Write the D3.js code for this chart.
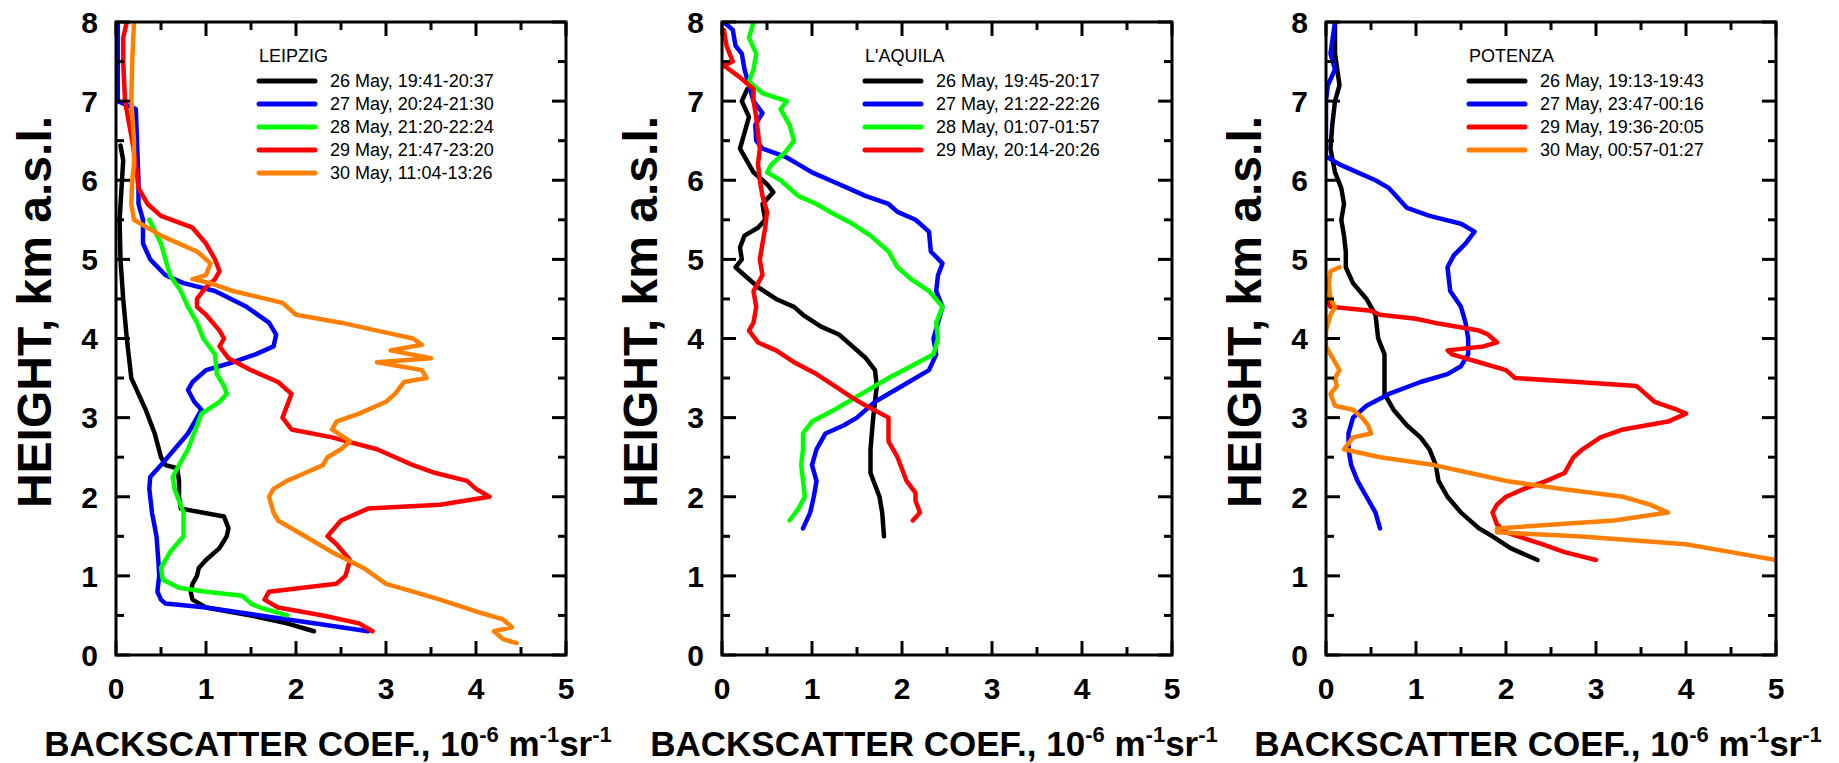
<!DOCTYPE html>
<html>
<head>
<meta charset="utf-8">
<script src="https://cdn.jsdelivr.net/npm/d3@7"></script>
<style>
  html, body { margin: 0; padding: 0; background: #fff; }
  svg { display: block; }
  text { font-family: "Liberation Sans", Arial, sans-serif; }
</style>
</head>
<body>
<svg id="chart" width="1839" height="763"></svg>
<script>
// ---------------- DATA ----------------
const xTicks = [0, 1, 2, 3, 4, 5];
const yTicks = [0, 1, 2, 3, 4, 5, 6, 7, 8];
const stations = ["LEIPZIG", "L'AQUILA", "POTENZA"];

// LEIPZIG  [backscatter, height km]
const lei26 = [[0.05,6.44],[0.08,6.25],[0.04,5.5],[0.05,5.0],[0.08,4.5],[0.12,4.0],[0.17,3.5],[0.25,3.3],[0.33,3.1],[0.43,2.8],[0.5,2.5],[0.55,2.4],[0.68,2.36],[0.7,2.2],[0.7,2.0],[0.72,1.85],[1.2,1.75],[1.25,1.6],[1.23,1.5],[1.15,1.35],[1.0,1.2],[0.92,1.1],[0.9,1.0],[0.85,0.9],[0.83,0.8],[0.85,0.7],[1.0,0.6],[1.5,0.5],[1.9,0.4],[2.2,0.3]];
const lei27 = [[0.02,8.0],[0.02,7.0],[0.22,6.9],[0.25,6.0],[0.25,5.7],[0.3,5.5],[0.3,5.2],[0.38,5.0],[0.55,4.8],[0.75,4.7],[1.1,4.6],[1.45,4.4],[1.7,4.2],[1.78,4.05],[1.75,3.9],[1.55,3.8],[1.3,3.7],[1.0,3.6],[0.85,3.45],[0.8,3.35],[0.87,3.2],[0.95,3.1],[0.9,3.0],[0.8,2.8],[0.65,2.6],[0.5,2.4],[0.38,2.25],[0.37,2.1],[0.4,1.8],[0.45,1.5],[0.47,1.2],[0.48,1.0],[0.46,0.8],[0.5,0.7],[0.55,0.65],[1.0,0.6],[1.6,0.5],[2.2,0.4],[2.8,0.3]];
const lei28 = [[0.37,5.5],[0.5,5.2],[0.55,5.0],[0.6,4.8],[0.72,4.6],[0.8,4.4],[0.9,4.2],[0.97,4.0],[1.1,3.8],[1.12,3.55],[1.2,3.4],[1.23,3.3],[1.15,3.2],[0.95,3.05],[0.9,2.9],[0.8,2.6],[0.7,2.4],[0.63,2.25],[0.65,2.1],[0.75,1.8],[0.75,1.5],[0.6,1.3],[0.5,1.1],[0.52,0.95],[0.7,0.85],[1.0,0.8],[1.4,0.75],[1.5,0.65],[1.6,0.6],[1.9,0.5]];
const lei29 = [[0.12,8.0],[0.08,7.8],[0.08,7.5],[0.1,7.0],[0.18,6.5],[0.22,6.2],[0.25,5.9],[0.35,5.7],[0.5,5.55],[0.85,5.4],[1.0,5.2],[1.1,5.0],[1.15,4.85],[1.1,4.75],[1.0,4.65],[0.9,4.5],[0.9,4.4],[1.0,4.3],[1.15,4.1],[1.2,4.0],[1.15,3.9],[1.25,3.75],[1.5,3.6],[1.8,3.45],[1.95,3.3],[1.9,3.15],[1.85,3.0],[1.95,2.85],[2.4,2.75],[2.9,2.6],[3.1,2.5],[3.3,2.4],[3.55,2.3],[3.9,2.2],[4.0,2.1],[4.15,2.0],[3.6,1.9],[2.8,1.85],[2.5,1.7],[2.35,1.5],[2.45,1.4],[2.6,1.2],[2.55,1.0],[2.45,0.9],[1.7,0.8],[1.65,0.7],[1.8,0.6],[2.3,0.5],[2.7,0.4],[2.85,0.3]];
const lei30 = [[0.2,8.0],[0.18,7.5],[0.17,7.0],[0.2,6.5],[0.2,6.2],[0.18,6.0],[0.17,5.7],[0.2,5.5],[0.5,5.3],[0.9,5.1],[1.05,4.95],[1.0,4.8],[0.85,4.75],[1.05,4.7],[1.3,4.6],[1.85,4.45],[2.0,4.3],[2.5,4.2],[2.9,4.1],[3.3,4.0],[3.4,3.92],[3.05,3.85],[3.5,3.75],[2.9,3.7],[3.4,3.6],[3.45,3.5],[3.2,3.45],[3.1,3.3],[3.0,3.2],[2.7,3.05],[2.45,2.95],[2.4,2.85],[2.6,2.7],[2.5,2.6],[2.35,2.5],[2.3,2.4],[2.1,2.3],[1.9,2.2],[1.75,2.1],[1.7,2.0],[1.75,1.8],[1.8,1.7],[2.1,1.5],[2.4,1.3],[2.75,1.1],[3.0,0.9],[3.3,0.8],[3.6,0.7],[4.0,0.55],[4.3,0.45],[4.4,0.35],[4.2,0.3],[4.3,0.2],[4.45,0.15]];

// L'AQUILA
const laq26 = [[0.28,7.15],[0.22,7.0],[0.3,6.8],[0.25,6.6],[0.2,6.4],[0.25,6.3],[0.35,6.1],[0.5,5.95],[0.57,5.85],[0.45,5.7],[0.48,5.5],[0.4,5.4],[0.25,5.3],[0.2,5.15],[0.22,5.0],[0.15,4.9],[0.25,4.8],[0.4,4.65],[0.6,4.5],[0.8,4.4],[0.9,4.3],[1.1,4.15],[1.3,4.05],[1.45,3.9],[1.6,3.75],[1.7,3.6],[1.72,3.4],[1.7,3.2],[1.68,3.0],[1.65,2.6],[1.65,2.3],[1.75,2.0],[1.78,1.8],[1.8,1.5]];
const laq27 = [[0.02,8.0],[0.12,7.9],[0.15,7.7],[0.22,7.6],[0.25,7.4],[0.3,7.2],[0.35,7.0],[0.45,6.85],[0.37,6.7],[0.38,6.5],[0.45,6.4],[0.7,6.3],[0.85,6.2],[1.0,6.1],[1.2,6.0],[1.4,5.9],[1.6,5.8],[1.85,5.7],[1.95,5.6],[2.15,5.5],[2.3,5.35],[2.32,5.1],[2.45,4.95],[2.4,4.8],[2.38,4.6],[2.45,4.4],[2.4,4.2],[2.35,4.0],[2.38,3.8],[2.3,3.6],[2.0,3.4],[1.7,3.2],[1.5,3.0],[1.35,2.9],[1.15,2.8],[1.05,2.6],[1.0,2.4],[1.05,2.2],[1.02,2.0],[0.98,1.8],[0.9,1.6]];
const laq28 = [[0.35,8.0],[0.3,7.8],[0.38,7.6],[0.35,7.4],[0.3,7.25],[0.45,7.1],[0.72,7.0],[0.65,6.9],[0.75,6.7],[0.8,6.5],[0.7,6.35],[0.55,6.2],[0.5,6.1],[0.65,6.0],[0.85,5.8],[1.05,5.7],[1.2,5.6],[1.45,5.45],[1.65,5.3],[1.85,5.1],[1.95,4.9],[2.1,4.75],[2.3,4.6],[2.45,4.4],[2.38,4.2],[2.4,4.0],[2.35,3.8],[2.1,3.65],[1.85,3.5],[1.55,3.3],[1.25,3.1],[1.0,2.95],[0.9,2.8],[0.9,2.6],[0.88,2.4],[0.9,2.2],[0.92,2.0],[0.85,1.85],[0.75,1.7]];
const laq29 = [[0.02,7.9],[0.05,7.7],[0.12,7.5],[0.02,7.45],[0.2,7.3],[0.35,7.15],[0.35,7.0],[0.38,6.8],[0.4,6.6],[0.42,6.4],[0.4,6.2],[0.42,6.0],[0.45,5.8],[0.5,5.6],[0.48,5.4],[0.42,5.0],[0.45,4.8],[0.35,4.6],[0.38,4.4],[0.35,4.2],[0.3,4.1],[0.4,3.95],[0.6,3.85],[0.8,3.7],[1.05,3.55],[1.25,3.4],[1.45,3.25],[1.6,3.15],[1.85,3.0],[1.85,2.9],[1.85,2.7],[1.95,2.5],[2.0,2.35],[2.05,2.2],[2.15,2.05],[2.15,1.95],[2.2,1.8],[2.12,1.7]];

// POTENZA
const pot26 = [[0.1,8.0],[0.1,7.6],[0.15,7.2],[0.1,7.0],[0.07,6.7],[0.05,6.4],[0.1,6.1],[0.17,5.9],[0.2,5.7],[0.17,5.5],[0.2,5.3],[0.22,5.1],[0.22,4.9],[0.3,4.7],[0.45,4.5],[0.55,4.3],[0.58,4.0],[0.65,3.8],[0.65,3.5],[0.65,3.3],[0.75,3.1],[0.9,2.9],[1.05,2.75],[1.15,2.6],[1.22,2.4],[1.25,2.2],[1.35,2.0],[1.5,1.8],[1.7,1.6],[1.85,1.5],[2.05,1.35],[2.35,1.2]];
const pot27 = [[0.1,8.0],[0.05,7.6],[0.1,7.4],[0.02,7.2],[0.0,7.0],[0.0,6.6],[0.0,6.3],[0.15,6.2],[0.35,6.1],[0.55,6.0],[0.7,5.9],[0.78,5.8],[0.9,5.65],[1.15,5.55],[1.5,5.45],[1.65,5.35],[1.55,5.2],[1.42,5.05],[1.35,4.9],[1.38,4.6],[1.5,4.4],[1.55,4.2],[1.58,4.0],[1.58,3.8],[1.5,3.65],[1.35,3.55],[1.05,3.45],[0.7,3.3],[0.45,3.15],[0.3,3.0],[0.25,2.8],[0.25,2.6],[0.28,2.4],[0.35,2.2],[0.45,2.0],[0.55,1.8],[0.6,1.6]];
const pot29 = [[0.0,4.5],[0.05,4.4],[0.5,4.35],[0.6,4.3],[1.0,4.25],[1.2,4.2],[1.7,4.1],[1.8,4.05],[1.9,3.95],[1.75,3.9],[1.35,3.85],[1.4,3.8],[1.7,3.7],[2.0,3.6],[2.1,3.5],[2.8,3.45],[3.45,3.4],[3.5,3.35],[3.65,3.2],[3.9,3.1],[4.0,3.05],[3.8,2.95],[3.3,2.85],[3.05,2.75],[2.85,2.6],[2.75,2.5],[2.7,2.4],[2.65,2.3],[2.45,2.2],[2.2,2.1],[2.0,2.0],[1.9,1.9],[1.85,1.8],[1.9,1.65],[2.0,1.55],[2.4,1.4],[2.65,1.3],[3.0,1.2]];
const pot30 = [[0.15,4.9],[0.05,4.85],[0.03,4.7],[0.05,4.5],[0.1,4.4],[0.05,4.3],[0.0,4.1],[0.0,3.9],[0.05,3.8],[0.1,3.7],[0.15,3.6],[0.1,3.5],[0.12,3.4],[0.05,3.3],[0.1,3.15],[0.3,3.1],[0.4,3.0],[0.47,2.9],[0.5,2.8],[0.3,2.75],[0.2,2.6],[0.6,2.5],[1.2,2.4],[1.6,2.3],[2.0,2.2],[2.6,2.1],[3.3,2.0],[3.6,1.9],[3.8,1.8],[3.2,1.7],[1.9,1.6],[1.9,1.55],[2.8,1.5],[4.0,1.4],[4.5,1.3],[5.0,1.2]];

const leiLabels = ["26 May, 19:41-20:37","27 May, 20:24-21:30","28 May, 21:20-22:24","29 May, 21:47-23:20","30 May, 11:04-13:26"];
const laqLabels = ["26 May, 19:45-20:17","27 May, 21:22-22:26","28 May, 01:07-01:57","29 May, 20:14-20:26"];
const potLabels = ["26 May, 19:13-19:43","27 May, 23:47-00:16","29 May, 19:36-20:05","30 May, 00:57-01:27"];

const C = {black:"#000000", blue:"#0000ff", green:"#00ff00", red:"#ff0000", orange:"#ff8000"};

const panels = [
  {name: stations[0], left: 116, series: [lei26, lei27, lei28, lei29, lei30], labels: leiLabels, colors: [C.black, C.blue, C.green, C.red, C.orange]},
  {name: stations[1], left: 722, series: [laq26, laq27, laq28, laq29], labels: laqLabels, colors: [C.black, C.blue, C.green, C.red]},
  {name: stations[2], left: 1326, series: [pot26, pot27, pot29, pot30], labels: potLabels, colors: [C.black, C.blue, C.red, C.orange]}
];

// ---------------- DRAW ----------------
const svg = d3.select("#chart");
const W = 450, plotTop = 22, plotBottom = 655;

panels.forEach((p, pi) => {
  const x = d3.scaleLinear().domain([0, 5]).range([p.left, p.left + W]);
  const y = d3.scaleLinear().domain([0, 8]).range([plotBottom, plotTop]);
  const g = svg.append("g");

  const clipId = "clip" + pi;
  svg.append("clipPath").attr("id", clipId).append("rect")
    .attr("x", p.left).attr("y", plotTop).attr("width", W).attr("height", plotBottom - plotTop);

  // data lines
  const line = d3.line().x(d => x(d[0])).y(d => y(d[1]));
  const lg = g.append("g").attr("clip-path", `url(#${clipId})`);
  p.series.forEach((s, i) => {
    lg.append("path").attr("d", line(s)).attr("fill", "none")
      .attr("stroke", p.colors[i]).attr("stroke-width", 4.5)
      .attr("stroke-linejoin", "round").attr("stroke-linecap", "round");
  });

  // ticks (inward on all sides), major & minor
  const minorX = d3.range(0.5, 5, 1), minorY = d3.range(0.5, 8, 1);
  const tk = g.append("g").attr("stroke", "#000").attr("stroke-width", 3);
  const majL = 14, minL = 8;
  xTicks.forEach(v => {
    tk.append("line").attr("x1", x(v)).attr("x2", x(v)).attr("y1", plotBottom).attr("y2", plotBottom - majL);
    tk.append("line").attr("x1", x(v)).attr("x2", x(v)).attr("y1", plotTop).attr("y2", plotTop + majL);
  });
  minorX.forEach(v => {
    tk.append("line").attr("x1", x(v)).attr("x2", x(v)).attr("y1", plotBottom).attr("y2", plotBottom - minL);
    tk.append("line").attr("x1", x(v)).attr("x2", x(v)).attr("y1", plotTop).attr("y2", plotTop + minL);
  });
  yTicks.forEach(v => {
    tk.append("line").attr("y1", y(v)).attr("y2", y(v)).attr("x1", p.left).attr("x2", p.left + majL);
    tk.append("line").attr("y1", y(v)).attr("y2", y(v)).attr("x1", p.left + W).attr("x2", p.left + W - majL);
  });
  minorY.forEach(v => {
    tk.append("line").attr("y1", y(v)).attr("y2", y(v)).attr("x1", p.left).attr("x2", p.left + minL);
    tk.append("line").attr("y1", y(v)).attr("y2", y(v)).attr("x1", p.left + W).attr("x2", p.left + W - minL);
  });

  // frame
  g.append("rect").attr("x", p.left).attr("y", plotTop).attr("width", W).attr("height", plotBottom - plotTop)
    .attr("fill", "none").attr("stroke", "#000").attr("stroke-width", 3);

  // tick labels
  xTicks.forEach(v => {
    g.append("text").attr("x", x(v)).attr("y", 699).attr("text-anchor", "middle")
      .attr("font-size", 30).attr("font-weight", "bold").text(v);
  });
  yTicks.forEach(v => {
    g.append("text").attr("x", p.left - 18).attr("y", y(v)).attr("dy", "0.36em").attr("text-anchor", "end")
      .attr("font-size", 30).attr("font-weight", "bold").text(v);
  });

  // axis titles
  const xt = g.append("text").attr("x", p.left + 212).attr("y", 756).attr("text-anchor", "middle")
    .attr("font-size", 35).attr("font-weight", "bold");
  xt.append("tspan").text("BACKSCATTER COEF., 10");
  xt.append("tspan").attr("dy", -14).attr("font-size", 22).text("-6");
  xt.append("tspan").attr("dy", 14).text(" m");
  xt.append("tspan").attr("dy", -14).attr("font-size", 22).text("-1");
  xt.append("tspan").attr("dy", 14).text("sr");
  xt.append("tspan").attr("dy", -14).attr("font-size", 22).text("-1");

  g.append("text").attr("transform", `translate(${p.left - 65},312) rotate(-90)`)
    .attr("text-anchor", "middle").attr("font-size", 48).attr("font-weight", "bold")
    .text("HEIGHT, km a.s.l.");

  // legend
  const lx = p.left + 143, tx = p.left + 214;
  g.append("text").attr("x", lx).attr("y", 62).attr("font-size", 18).text(p.name);
  p.labels.forEach((lab, i) => {
    const ly = 81 + i * 23;
    g.append("line").attr("x1", lx).attr("x2", lx + 56).attr("y1", ly).attr("y2", ly)
      .attr("stroke", p.colors[i]).attr("stroke-width", 5).attr("stroke-linecap", "round");
    g.append("text").attr("x", tx).attr("y", ly).attr("dy", "0.36em").attr("font-size", 18).text(lab);
  });
});
</script>
</body>
</html>
